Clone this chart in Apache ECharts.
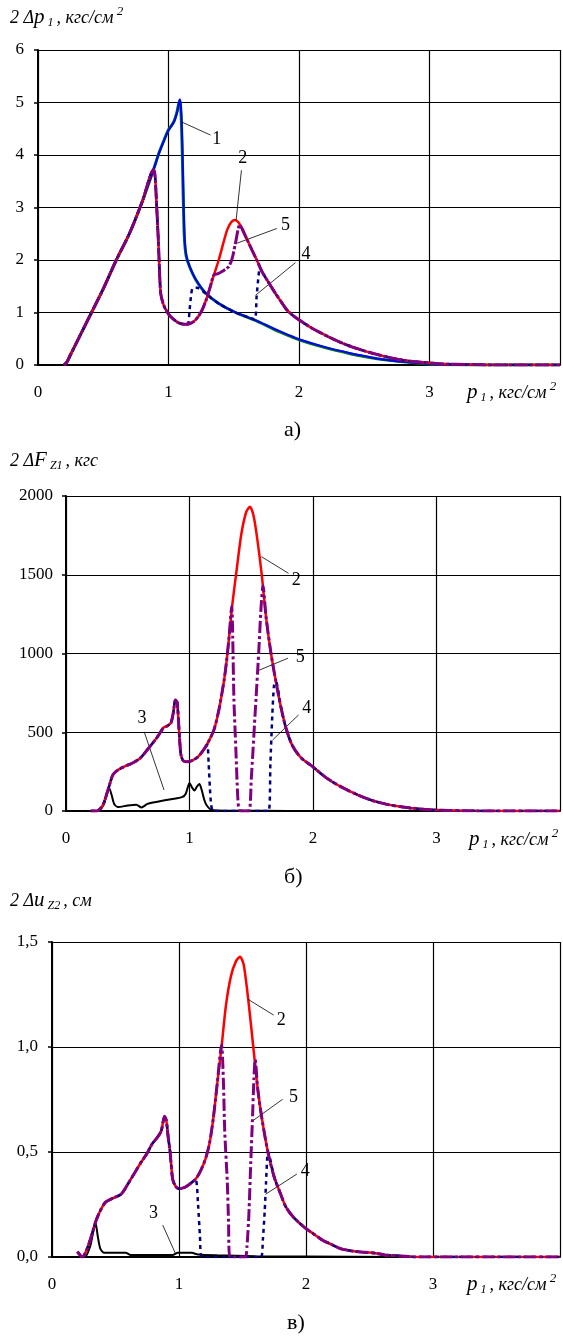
<!DOCTYPE html>
<html><head><meta charset="utf-8">
<script src="https://cdn.jsdelivr.net/npm/echarts@6/dist/echarts.min.js"></script>
<style>html,body{margin:0;padding:0;background:#fff}#c{width:563px;height:1337px}</style>
</head><body><div id="c"></div>
<script>
// ---------- tick labels ----------
const xTickLabels = ['0', '1', '2', '3', ''];
const yTicksA = ['0', '1', '2', '3', '4', '5', '6'];
const yTicksB = ['0', '500', '1000', '1500', '2000'];
const yTicksC = ['0,0', '0,5', '1,0', '1,5'];

// ---------- chart a) 2Δp1 ----------
const a_curve1_green = [[0.2,0],[0.22,0.05],[0.25,0.2],[0.3,0.45],[0.4,0.95],[0.5,1.45],[0.6,2.0],[0.7,2.5],[0.8,3.12],[0.885,3.72],[0.93,4.06],[0.97,4.31],[1.0,4.48],[1.04,4.63],[1.065,4.82],[1.085,5.04],[1.092,4.95],[1.1,4.55],[1.108,3.75],[1.115,2.95],[1.122,2.4],[1.135,2.08],[1.16,1.88],[1.21,1.62],[1.284,1.37],[1.385,1.17],[1.513,1.0],[1.666,0.85],[1.8,0.69],[1.92,0.56],[2.0,0.48],[2.2,0.33],[2.4,0.21],[2.5,0.16],[2.6,0.12],[2.8,0.06],[3.0,0.02],[3.2,0.005],[3.5,0],[4,0]];
const a_curve1_blue = [[0.2,0],[0.22,0.05],[0.25,0.2],[0.3,0.45],[0.4,0.95],[0.5,1.45],[0.6,2.0],[0.7,2.5],[0.8,3.12],[0.885,3.72],[0.93,4.05],[0.97,4.3],[1.0,4.47],[1.04,4.62],[1.065,4.8],[1.087,5.06],[1.094,4.95],[1.102,4.55],[1.11,3.75],[1.117,2.95],[1.124,2.4],[1.137,2.08],[1.162,1.88],[1.212,1.62],[1.286,1.37],[1.387,1.17],[1.515,1.0],[1.668,0.85],[1.8,0.7],[1.92,0.57],[2.0,0.49],[2.2,0.34],[2.4,0.22],[2.5,0.17],[2.6,0.12],[2.8,0.06],[3.0,0.02],[3.2,0.005],[3.5,0],[4,0]];
const a_curve2 = [[0.2,0],[0.22,0.05],[0.25,0.2],[0.3,0.45],[0.4,0.95],[0.5,1.45],[0.6,2.0],[0.7,2.5],[0.8,3.12],[0.885,3.72],[0.897,3.6],[0.907,3.14],[0.922,2.38],[0.933,1.68],[0.94,1.37],[0.955,1.2],[0.97,1.1],[1.0,0.97],[1.03,0.89],[1.08,0.8],[1.13,0.775],[1.165,0.79],[1.195,0.83],[1.23,0.93],[1.258,1.05],[1.29,1.25],[1.32,1.49],[1.347,1.71],[1.385,2.0],[1.42,2.32],[1.449,2.57],[1.48,2.72],[1.508,2.76],[1.535,2.72],[1.563,2.6],[1.6,2.4],[1.64,2.19],[1.68,1.98],[1.716,1.78],[1.77,1.56],[1.818,1.37],[1.87,1.18],[1.907,1.05],[1.95,0.95],[2.0,0.86],[2.1,0.7],[2.2,0.57],[2.3,0.45],[2.4,0.35],[2.5,0.27],[2.6,0.2],[2.7,0.14],[2.8,0.09],[2.9,0.06],[3.0,0.04],[3.1,0.02],[3.3,0.01],[3.5,0],[4,0]];
const a_curve4 = [[0.2,0],[0.22,0.05],[0.25,0.2],[0.3,0.45],[0.4,0.95],[0.5,1.45],[0.6,2.0],[0.7,2.5],[0.8,3.12],[0.885,3.72],[0.897,3.6],[0.907,3.14],[0.922,2.38],[0.933,1.68],[0.94,1.37],[0.955,1.2],[0.97,1.1],[1.0,0.97],[1.03,0.89],[1.08,0.8],[1.13,0.775],[1.15,0.78],[1.16,1.0],[1.172,1.3],[1.185,1.46],[1.22,1.47],[1.26,1.41],[1.3,1.33],[1.385,1.17],[1.513,1.0],[1.6,0.92],[1.66,0.87],[1.675,1.3],[1.69,1.7],[1.70,1.86],[1.716,1.78],[1.77,1.56],[1.818,1.37],[1.87,1.18],[1.907,1.05],[1.95,0.95],[2.0,0.86],[2.1,0.7],[2.2,0.57],[2.3,0.45],[2.4,0.35],[2.5,0.27],[2.6,0.2],[2.7,0.14],[2.8,0.09],[2.9,0.06],[3.0,0.04],[3.1,0.02],[3.3,0.01],[3.5,0],[4,0]];
const a_curve5 = [[0.2,0],[0.22,0.05],[0.25,0.2],[0.3,0.45],[0.4,0.95],[0.5,1.45],[0.6,2.0],[0.7,2.5],[0.8,3.12],[0.885,3.72],[0.897,3.6],[0.907,3.14],[0.922,2.38],[0.933,1.68],[0.94,1.37],[0.955,1.2],[0.97,1.1],[1.0,0.97],[1.03,0.89],[1.08,0.8],[1.13,0.775],[1.165,0.79],[1.195,0.83],[1.23,0.93],[1.258,1.05],[1.29,1.25],[1.32,1.49],[1.347,1.71],[1.38,1.74],[1.41,1.78],[1.44,1.83],[1.46,1.87],[1.48,1.97],[1.495,2.1],[1.513,2.32],[1.546,2.67],[1.563,2.6],[1.6,2.4],[1.64,2.19],[1.68,1.98],[1.716,1.78],[1.77,1.56],[1.818,1.37],[1.87,1.18],[1.907,1.05],[1.95,0.95],[2.0,0.86],[2.1,0.7],[2.2,0.57],[2.3,0.45],[2.4,0.35],[2.5,0.27],[2.6,0.2],[2.7,0.14],[2.8,0.09],[2.9,0.06],[3.0,0.04],[3.1,0.02],[3.3,0.01],[3.5,0],[4,0]];

// ---------- chart б) 2ΔFz1 ----------
const b_curve2 = [[0.2,0],[0.25,0],[0.3,40],[0.35,160],[0.38,230],[0.42,260],[0.48,285],[0.54,305],[0.6,335],[0.67,400],[0.74,470],[0.79,530],[0.82,540],[0.85,560],[0.87,630],[0.885,705],[0.9,690],[0.915,520],[0.93,360],[0.95,318],[0.98,312],[1.02,320],[1.07,345],[1.12,395],[1.16,450],[1.2,520],[1.24,650],[1.28,830],[1.3,950],[1.32,1100],[1.345,1300],[1.38,1520],[1.42,1760],[1.46,1900],[1.49,1932],[1.52,1870],[1.55,1720],[1.585,1500],[1.62,1230],[1.66,1000],[1.70,820],[1.74,660],[1.78,530],[1.83,420],[1.9,340],[2.0,280],[2.1,215],[2.2,165],[2.3,125],[2.4,90],[2.5,62],[2.6,42],[2.7,28],[2.8,18],[2.9,11],[3.0,6],[3.2,2],[3.5,0],[4,0]];
const b_curve3 = [[0.25,0],[0.28,10],[0.31,50],[0.33,110],[0.35,145],[0.37,100],[0.39,45],[0.42,25],[0.5,35],[0.57,40],[0.61,22],[0.66,45],[0.75,60],[0.85,75],[0.94,88],[0.97,110],[1.0,178],[1.02,150],[1.04,130],[1.06,155],[1.08,171],[1.1,130],[1.12,70],[1.14,35],[1.18,6],[1.3,2],[1.6,1],[2.0,0],[2.8,0]];
const b_curve4 = [[0.2,0],[0.25,0],[0.3,40],[0.35,160],[0.38,230],[0.42,260],[0.48,285],[0.54,305],[0.6,335],[0.67,400],[0.74,470],[0.79,530],[0.82,540],[0.85,560],[0.87,630],[0.885,705],[0.9,690],[0.915,520],[0.93,360],[0.95,318],[0.98,312],[1.02,320],[1.07,345],[1.12,395],[1.144,420],[1.155,300],[1.165,150],[1.175,40],[1.185,5],[1.2,0],[1.4,0],[1.64,0],[1.655,300],[1.67,600],[1.685,800],[1.70,820],[1.74,660],[1.78,530],[1.83,420],[1.9,340],[2.0,280],[2.1,215],[2.2,165],[2.3,125],[2.4,90],[2.5,62],[2.6,42],[2.7,28],[2.8,18],[2.9,11],[3.0,6],[3.2,2],[3.5,0],[4,0]];
const b_curve5 = [[0.2,0],[0.25,0],[0.3,40],[0.35,160],[0.38,230],[0.42,260],[0.48,285],[0.54,305],[0.6,335],[0.67,400],[0.74,470],[0.79,530],[0.82,540],[0.85,560],[0.87,630],[0.885,705],[0.9,690],[0.915,520],[0.93,360],[0.95,318],[0.98,312],[1.02,320],[1.07,345],[1.12,395],[1.16,450],[1.2,520],[1.24,650],[1.28,830],[1.3,950],[1.32,1100],[1.342,1300],[1.35,1100],[1.36,700],[1.375,400],[1.39,100],[1.40,10],[1.42,0],[1.48,0],[1.5,200],[1.53,600],[1.56,1000],[1.58,1300],[1.595,1430],[1.62,1230],[1.66,1000],[1.70,820],[1.74,660],[1.78,530],[1.83,420],[1.9,340],[2.0,280],[2.1,215],[2.2,165],[2.3,125],[2.4,90],[2.5,62],[2.6,42],[2.7,28],[2.8,18],[2.9,11],[3.0,6],[3.2,2],[3.5,0],[4,0]];

// ---------- chart в) 2Δuz2 ----------
const c_curve2 = [[0.2,0.025],[0.24,0],[0.27,0.03],[0.3,0.08],[0.345,0.17],[0.38,0.22],[0.42,0.26],[0.48,0.28],[0.546,0.30],[0.6,0.35],[0.66,0.41],[0.7,0.45],[0.745,0.49],[0.79,0.54],[0.83,0.57],[0.86,0.6],[0.886,0.67],[0.9,0.65],[0.915,0.57],[0.93,0.5],[0.95,0.37],[0.975,0.335],[1.0,0.325],[1.04,0.33],[1.08,0.345],[1.13,0.37],[1.17,0.41],[1.21,0.47],[1.24,0.54],[1.27,0.66],[1.3,0.82],[1.335,1.0],[1.37,1.2],[1.41,1.34],[1.45,1.41],[1.48,1.43],[1.51,1.39],[1.55,1.2],[1.585,1.0],[1.62,0.8],[1.65,0.67],[1.70,0.5],[1.75,0.38],[1.8,0.3],[1.84,0.24],[1.9,0.19],[1.99,0.14],[2.06,0.11],[2.13,0.08],[2.2,0.06],[2.27,0.04],[2.35,0.03],[2.41,0.025],[2.55,0.018],[2.62,0.01],[2.75,0.005],[2.86,0],[4,0]];
const c_curve3 = [[0.22,0],[0.26,0],[0.3,0.05],[0.325,0.12],[0.344,0.16],[0.36,0.1],[0.38,0.04],[0.41,0.02],[0.5,0.02],[0.58,0.02],[0.62,0.01],[0.95,0.01],[0.99,0.02],[1.1,0.02],[1.15,0.012],[1.3,0.008],[1.6,0.004],[2.0,0.002],[2.8,0]];
const c_curve4 = [[0.2,0.025],[0.24,0],[0.27,0.03],[0.3,0.08],[0.345,0.17],[0.38,0.22],[0.42,0.26],[0.48,0.28],[0.546,0.30],[0.6,0.35],[0.66,0.41],[0.7,0.45],[0.745,0.49],[0.79,0.54],[0.83,0.57],[0.86,0.6],[0.886,0.67],[0.9,0.65],[0.915,0.57],[0.93,0.5],[0.95,0.37],[0.975,0.335],[1.0,0.325],[1.04,0.33],[1.08,0.345],[1.13,0.37],[1.15,0.25],[1.165,0.1],[1.18,0],[1.4,0],[1.645,0],[1.66,0.08],[1.675,0.22],[1.685,0.35],[1.695,0.48],[1.70,0.5],[1.75,0.38],[1.8,0.3],[1.84,0.24],[1.9,0.19],[1.99,0.14],[2.06,0.11],[2.13,0.08],[2.2,0.06],[2.27,0.04],[2.35,0.03],[2.41,0.025],[2.55,0.018],[2.62,0.01],[2.75,0.005],[2.86,0],[4,0]];
const c_curve5 = [[0.2,0.025],[0.24,0],[0.27,0.03],[0.3,0.08],[0.345,0.17],[0.38,0.22],[0.42,0.26],[0.48,0.28],[0.546,0.30],[0.6,0.35],[0.66,0.41],[0.7,0.45],[0.745,0.49],[0.79,0.54],[0.83,0.57],[0.86,0.6],[0.886,0.67],[0.9,0.65],[0.915,0.57],[0.93,0.5],[0.95,0.37],[0.975,0.335],[1.0,0.325],[1.04,0.33],[1.08,0.345],[1.13,0.37],[1.17,0.41],[1.21,0.47],[1.24,0.54],[1.27,0.66],[1.3,0.82],[1.335,1.01],[1.35,0.83],[1.36,0.6],[1.38,0.36],[1.39,0.17],[1.40,0],[1.52,0],[1.535,0.05],[1.55,0.2],[1.565,0.45],[1.578,0.65],[1.59,0.85],[1.6,0.94],[1.62,0.8],[1.65,0.67],[1.70,0.5],[1.75,0.38],[1.8,0.3],[1.84,0.24],[1.9,0.19],[1.99,0.14],[2.06,0.11],[2.13,0.08],[2.2,0.06],[2.27,0.04],[2.35,0.03],[2.41,0.025],[2.55,0.018],[2.62,0.01],[2.75,0.005],[2.86,0],[4,0]];

// ---------- curve number call-outs (data coordinates) ----------
const a_leaders = [[1.10,4.63,1.322,4.38],[1.518,2.76,1.559,3.71],[1.525,2.32,1.83,2.60],[1.668,1.33,1.973,1.95]];
const a_labels = [['1',1.37,4.30],['2',1.569,3.94],['5',1.897,2.67],['4',2.054,2.10]];
const b_leaders = [[1.582,1615,1.802,1509],[1.555,891,1.797,970],[1.673,451,1.883,610],[0.633,503,0.794,133]];
const b_labels = [['2',1.865,1467],['5',1.897,976],['4',1.95,652],['3',0.615,589]];
const c_leaders = [[1.544,1.227,1.745,1.152],[1.588,0.652,1.816,0.751],[1.68,0.298,1.928,0.395],[0.872,0.152,0.971,0.018]];
const c_labels = [['2',1.805,1.129],['5',1.902,0.763],['4',1.994,0.406],['3',0.80,0.208]];

const SERIF = 'Liberation Serif';
const C_RED = '#ff0000', C_NAVY = '#000080', C_PURPLE = '#800080', C_BLUE = '#0000ff', C_GREEN = '#008000';

const grids = [
  {left: 38, top: 50, width: 524, height: 315},
  {left: 66, top: 496, width: 496, height: 315},
  {left: 52, top: 942, width: 510, height: 315}
];

function xAxisFor(i) {
  return {
    gridIndex: i, type: 'value', min: 0, max: 4, interval: 1,
    axisLine: {show: true, onZero: false, lineStyle: {color: '#000', width: 2}},
    axisTick: {show: false},
    splitLine: {show: true, lineStyle: {color: '#000', width: 1.2}},
    axisLabel: {margin: 19, color: '#000', fontFamily: SERIF, fontSize: 17,
      formatter: (v, idx) => xTickLabels[idx] ?? ''}
  };
}
function yAxisFor(i, max, interval, labels, margin) {
  return {
    gridIndex: i, type: 'value', min: 0, max: max, interval: interval,
    axisLine: {show: true, lineStyle: {color: '#000', width: 2}},
    axisTick: {show: true, length: 4, lineStyle: {color: '#000', width: 1.5}},
    splitLine: {show: true, lineStyle: {color: '#000', width: 1.2}},
    axisLabel: {margin: margin, color: '#000', fontFamily: SERIF, fontSize: 17,
      formatter: (v, idx) => labels[idx] ?? ''}
  };
}

function line(i, data, color, width, type, z) {
  return {
    type: 'line', xAxisIndex: i, yAxisIndex: i, data: data,
    showSymbol: false, symbol: 'none', smooth: 0.25, z: z,
    lineStyle: {color: color, width: width, type: type, cap: 'butt'},
    silent: true, animation: false
  };
}

function annot(i, leaders, labels) {
  return {
    type: 'line', xAxisIndex: i, yAxisIndex: i, data: [[0, 0]], symbol: 'none',
    lineStyle: {opacity: 0}, silent: true, z: 20, animation: false,
    markLine: {
      silent: true, symbol: ['none', 'none'], animation: false,
      lineStyle: {color: '#000', width: 0.8, type: 'solid'},
      label: {show: false},
      data: leaders.map(l => [{coord: [l[0], l[1]]}, {coord: [l[2], l[3]]}])
    },
    markPoint: {
      silent: true, symbol: 'circle', symbolSize: 1, animation: false,
      itemStyle: {color: 'rgba(0,0,0,0)'},
      label: {show: true, position: 'inside', formatter: '{b}', color: '#000', fontFamily: SERIF, fontSize: 18},
      data: labels.map(l => ({name: l[0], coord: [l[1], l[2]]}))
    }
  };
}

const richAxis = {
  i: {fontFamily: SERIF, fontStyle: 'italic', fontSize: 18, color: '#000', lineHeight: 26, verticalAlign: 'bottom', padding: [0, 0, 3, 0]},
  p: {fontFamily: SERIF, fontStyle: 'italic', fontSize: 21, color: '#000', lineHeight: 26, verticalAlign: 'bottom', padding: [0, 0, 2, 0]},
  s: {fontFamily: SERIF, fontStyle: 'italic', fontSize: 12, color: '#000', lineHeight: 26, verticalAlign: 'bottom', padding: [0, 0, 1, 0]},
  u: {fontFamily: SERIF, fontStyle: 'italic', fontSize: 13, color: '#000', lineHeight: 26, verticalAlign: 'top', padding: [1, 0, 0, 0]}
};

function txt(left, top, text, rich) {
  return {type: 'text', left: left, top: top, silent: true,
    style: {text: text, rich: rich, fill: '#000'}};
}
function caption(cx, top, text) {
  return {type: 'text', left: cx - 11, top: top, silent: true,
    style: {text: text, fill: '#000', font: '22px "Liberation Serif"'}};
}

const option = {
  animation: false,
  backgroundColor: '#fff',
  grid: grids,
  xAxis: [xAxisFor(0), xAxisFor(1), xAxisFor(2)],
  yAxis: [yAxisFor(0, 6, 1, yTicksA, 14), yAxisFor(1, 2000, 500, yTicksB, 13), yAxisFor(2, 1.5, 0.5, yTicksC, 14)],
  series: [
    line(0, a_curve1_green, C_GREEN, 3, 'solid', 2),
    line(0, a_curve1_blue, C_BLUE, 2, 'solid', 3),
    line(0, a_curve2, C_RED, 2.5, 'solid', 4),
    line(0, a_curve4, C_NAVY, 2.5, [4, 4], 5),
    line(0, a_curve5, C_PURPLE, 3, [14, 2, 3, 2], 6),
    annot(0, a_leaders, a_labels),

    line(1, b_curve3, '#000', 2, 'solid', 2),
    line(1, b_curve2, C_RED, 2.5, 'solid', 4),
    line(1, b_curve4, C_NAVY, 2.5, [4, 4], 5),
    line(1, b_curve5, C_PURPLE, 3, [12, 3, 3, 3], 6),
    annot(1, b_leaders, b_labels),

    line(2, c_curve3, '#000', 2, 'solid', 2),
    line(2, c_curve2, C_RED, 2.5, 'solid', 4),
    line(2, c_curve4, C_NAVY, 2.5, [4, 4], 5),
    line(2, c_curve5, C_PURPLE, 3, [12, 3, 3, 3], 6),
    annot(2, c_leaders, c_labels)
  ],
  graphic: [
    txt(10, 4, '{i|2 Δ}{p|p}{s| 1 }{i|, кгс/см}{u| 2}', richAxis),
    txt(467, 379, '{p|p}{s| 1 }{i|, кгс/см}{u| 2}', richAxis),
    caption(295, 419, 'а)'),
    txt(10, 450, '{i|2 Δ}{p|F}{s| Z1 }{i|, кгс}', richAxis),
    txt(469, 826, '{p|p}{s| 1 }{i|, кгс/см}{u| 2}', richAxis),
    caption(295, 866, 'б)'),
    txt(10, 890, '{i|2 Δ}{p|u}{s| Z2 }{i|, см}', richAxis),
    txt(467, 1271, '{p|p}{s| 1 }{i|, кгс/см}{u| 2}', richAxis),
    caption(298, 1312, 'в)')
  ]
};

const chart = echarts.init(document.getElementById('c'), null, {renderer: 'canvas'});
chart.setOption(option);
</script></body></html>
